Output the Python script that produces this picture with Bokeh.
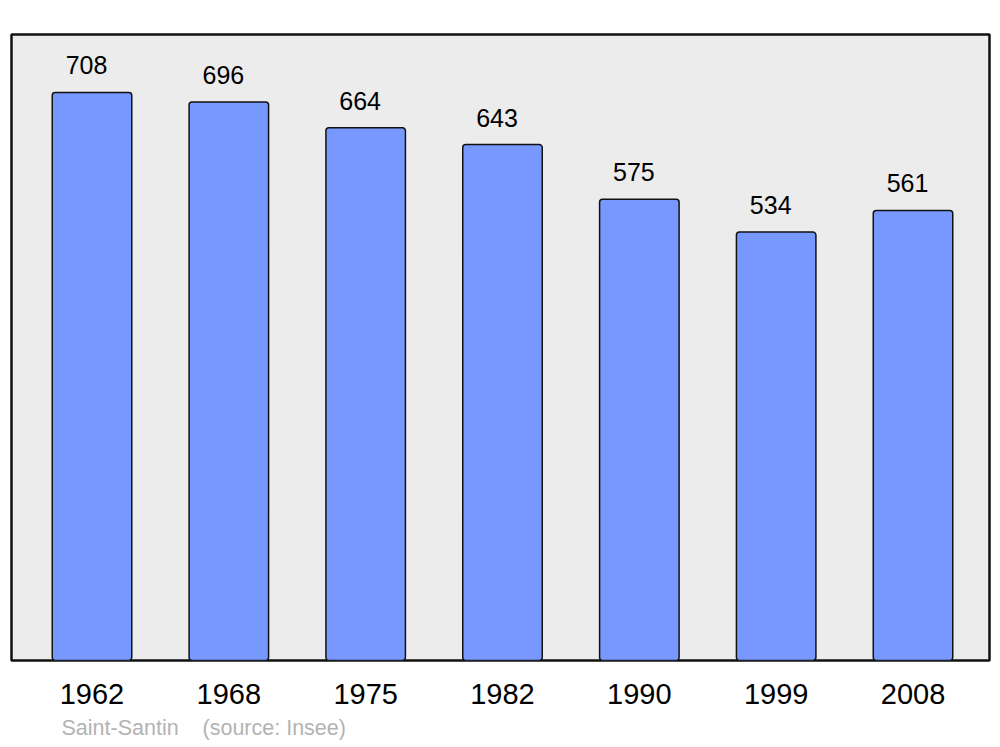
from bokeh.plotting import figure
from bokeh.models import Range1d, FixedTicker, ColumnDataSource, Title
from bokeh.core.properties import value
from bokeh.embed import file_html
from bokeh.resources import INLINE

years = ["1962", "1968", "1975", "1982", "1990", "1999", "2008"]
population = [708, 696, 664, 643, 575, 534, 561]
commune = "Saint-Santin"
source_note = "(source: Insee)"

idx = list(range(len(years)))
src = ColumnDataSource(dict(x=idx, top=population, lbl=[str(v) for v in population]))

p = figure(width=1000, height=747, output_backend="svg", toolbar_location=None,
           x_range=Range1d(-0.5883, 6.559), y_range=Range1d(0, 780.2),
           min_border_left=11, min_border_right=11, min_border_top=34, min_border_bottom=87)
p.background_fill_color = "#ececec"
p.border_fill_color = "white"
p.outline_line_color = "#111111"
p.outline_line_width = 2.5
p.grid.visible = False
p.yaxis.visible = False

p.vbar(x="x", top="top", bottom=0, width=0.581, source=src,
       fill_color="#7799ff", line_color="#111111", line_width=1.5, border_radius=3)
p.text(x="x", y="top", text="lbl", source=src, text_align="center", text_baseline="middle",
       x_offset=-5.5, y_offset=-27, text_font=value("Liberation Sans"),
       text_font_size="25px", text_color="black")

xa = p.xaxis[0]
xa.ticker = FixedTicker(ticks=idx)
xa.major_label_overrides = {i: y for i, y in zip(idx, years)}
xa.axis_line_color = None
xa.major_tick_line_color = None
xa.minor_tick_line_color = None
xa.major_tick_out = 0
xa.major_tick_in = 0
xa.major_label_standoff = 23
xa.major_label_text_font = "Liberation Sans"
xa.major_label_text_font_size = "29px"
xa.major_label_text_color = "black"

note = Title(text=commune + "\u00a0" * 4 + source_note, align="left", offset=50,
             text_font="Liberation Sans", text_font_size="21.5px", text_font_style="normal",
             text_color="#b3b3b3", standoff=15)
p.add_layout(note, "below")

open("out.html", "w").write(file_html(p, INLINE))
